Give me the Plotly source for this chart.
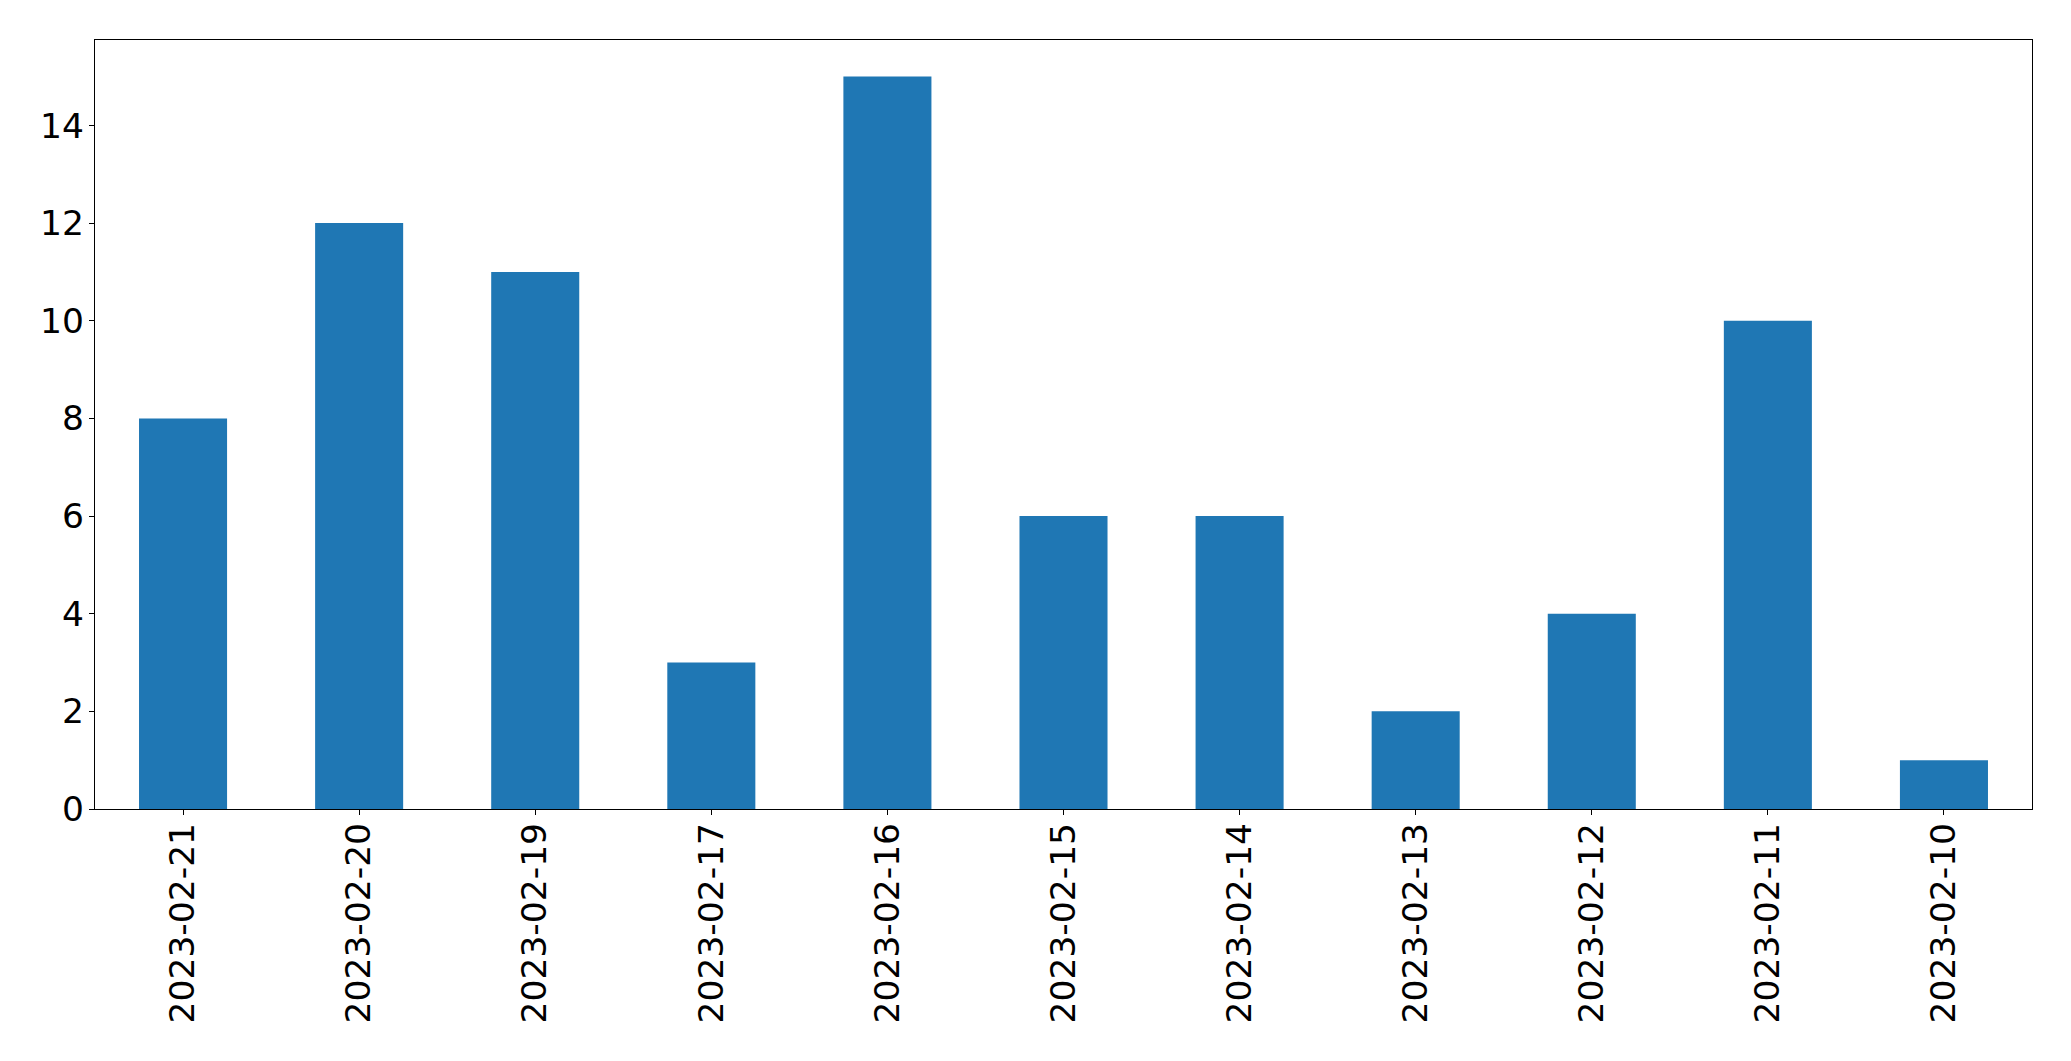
import plotly.graph_objects as go

dates = ["2023-02-21", "2023-02-20", "2023-02-19", "2023-02-17", "2023-02-16",
         "2023-02-15", "2023-02-14", "2023-02-13", "2023-02-12", "2023-02-11", "2023-02-10"]
counts = [8, 12, 11, 3, 15, 6, 6, 2, 4, 10, 1]
y_ticks = [0, 2, 4, 6, 8, 10, 12, 14]

fig = go.Figure(go.Bar(x=dates, y=counts, width=0.5, marker=dict(color="#1f77b4", line=dict(width=0))))

axis_common = dict(showline=True, linecolor="black", linewidth=1.3, mirror=True,
                   ticks="outside", ticklen=5, tickwidth=1.3, tickcolor="black",
                   showgrid=False, zeroline=False,
                   tickfont=dict(family="DejaVu Sans", size=34.5, color="black"))

# page body has an 8px margin, so figure coords are offset by 8px
fig.update_layout(
    width=2071, height=1061,
    margin=dict(l=86.5, r=47, t=31.5, b=260, pad=0),
    plot_bgcolor="white", paper_bgcolor="white",
    showlegend=False,
    xaxis=dict(type="category", range=[-0.5, len(dates) - 0.5], tickangle=-90,
               ticklabelstandoff=-6, **axis_common),
    yaxis=dict(range=[0, 15.75], tickmode="array", tickvals=y_ticks,
               ticktext=[str(v) for v in y_ticks], ticklabelstandoff=-2, **axis_common),
)

fig.write_html("out.html")
